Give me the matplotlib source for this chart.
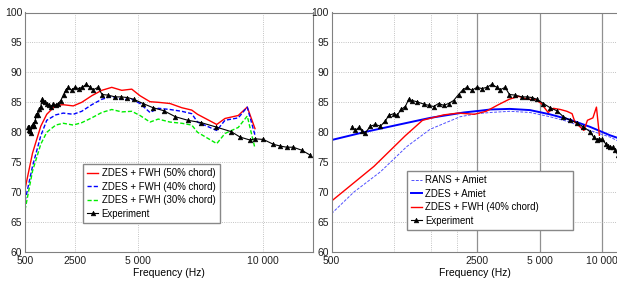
import matplotlib
matplotlib.use('Agg')
import matplotlib.pyplot as plt
from matplotlib.ticker import FixedLocator, NullFormatter

plt.rcParams['font.family'] = ['Liberation Sans', 'DejaVu Sans']
plt.rcParams['font.size'] = 7.5

# ZDES + FWH results (three surface positions), same frequency samples
zdes_freq = [500, 800, 1130, 1370, 1730, 2030, 2430, 2770, 3170, 3570, 3970, 4370,
             4770, 5100, 5500, 5830, 6300, 6770, 7170, 7400, 8170, 8500, 9030, 9390, 9700]
zdes_50 = [70.5, 76.5, 81.0, 83.0, 84.5, 84.6, 84.4, 85.0, 86.1, 87.0, 87.5, 87.0,
           87.2, 86.1, 85.1, 85.0, 84.8, 84.1, 83.7, 83.0, 81.3, 82.3, 82.8, 84.2, 80.6]
zdes_40 = [68.5, 74.3, 79.4, 82.0, 82.9, 83.2, 83.0, 83.5, 84.6, 85.5, 86.0, 85.5,
           85.5, 84.8, 83.3, 84.0, 83.8, 83.5, 83.1, 81.7, 80.3, 82.0, 82.4, 84.2, 79.5]
zdes_30 = [67.0, 73.5, 78.0, 80.0, 81.2, 81.5, 81.2, 81.6, 82.4, 83.3, 83.8, 83.4,
           83.5, 82.8, 81.7, 82.2, 81.7, 81.5, 81.2, 80.0, 78.1, 79.8, 80.8, 82.7, 77.3]

# Amiet models
rans_freq = [500, 640, 860, 1150, 1490, 2080, 2500, 2900, 3600, 4500, 5600, 7000, 8750, 10900, 12000]
rans_amiet = [66.4, 70.0, 73.4, 77.6, 80.5, 82.6, 83.1, 83.3, 83.5, 83.3, 82.6, 81.7, 80.3, 79.2, 78.5]
amiet_freq = [500, 714, 1030, 1490, 2160, 2600, 2900, 3600, 4500, 5600, 7000, 8750, 10900, 12000]
zdes_amiet = [78.7, 80.0, 81.2, 82.4, 83.3, 83.6, 83.8, 83.9, 83.7, 83.0, 82.1, 80.9, 79.5, 79.0]

# Experiment
exp_freq = [628, 651, 676, 701, 727, 769, 813, 859, 908, 941, 995, 1032, 1079, 1132, 1175,
            1219, 1288, 1387, 1465, 1549, 1636, 1730, 1828, 1932, 2040, 2141, 2238, 2365,
            2500, 2642, 2793, 2950, 3118, 3236, 3419, 3585, 3819, 4111, 4345, 4592, 4853,
            5220, 5620, 6052, 6510, 7012, 7550, 8125, 8750, 9100, 9500, 9700, 10030, 10430,
            10700, 10970, 11230, 11570, 11900]
exp_spl = [80.9, 80.3, 80.8, 80.2, 79.9, 81.0, 81.3, 81.0, 81.9, 82.8, 83.1, 82.8, 83.8, 84.3,
           85.5, 85.3, 85.1, 84.7, 84.5, 84.3, 84.8, 84.5, 84.8, 85.3, 86.3, 87.1, 87.5, 87.0,
           87.5, 87.3, 87.5, 88.0, 87.5, 87.1, 87.5, 86.3, 86.2, 85.9, 85.9, 85.8, 85.5,
           84.8, 84.1, 83.6, 82.6, 82.0, 81.6, 80.9, 80.1, 79.2, 78.7, 78.9, 78.8, 78.0,
           77.7, 77.5, 77.5, 77.0, 76.2]

xticks = [500, 2500, 5000, 10000]
xlabels = ['500', '2500', '5 000', '10 000']
yticks = list(range(60, 101, 5))

fig = plt.figure(figsize=(6.17, 2.82), dpi=100)
ax1 = fig.add_axes([25/617, 1-252/282, 287.5/617, 239.5/282])
ax2 = fig.add_axes([331.5/617, 1-252/282, 287.1/617, 239.5/282])

for ax in (ax1, ax2):
    for s in ax.spines.values():
        s.set_color('#808080')
        s.set_linewidth(0.8)
    ax.set_ylim(60, 100)
    ax.set_yticks(yticks)
    ax.set_axisbelow(True)
    ax.yaxis.grid(True, ls=':', color='#b0b0b0', lw=0.6)
    ax.tick_params(which='both', length=0, pad=2, colors='#202020')
    ax.tick_params(axis='x', pad=3)
    ax.set_xlabel('Frequency (Hz)', labelpad=1)

dash = (3, 1.5)
exp_style = dict(color='k', marker='^', ms=3.4, lw=0.8, mew=0.4)
leg_style = dict(loc='lower left', borderaxespad=0, mode='expand', fancybox=False,
                 edgecolor='#888888', framealpha=1, handlelength=1.1, fontsize=6.9,
                 borderpad=0.45, labelspacing=0.36, handletextpad=0.4)

# left panel: linear frequency axis
ax1.set_xlim(500, 12000)
ax1.set_xticks(xticks)
ax1.set_xticklabels(xlabels)
ax1.xaxis.grid(True, ls=':', color='#b0b0b0', lw=0.6)
ax1.plot(zdes_freq, zdes_50, color='#ff0000', lw=1.0, label='ZDES + FWH (50% chord)')
ax1.plot(zdes_freq, zdes_40, color='#0000ff', lw=1.0, dashes=dash, label='ZDES + FWH (40% chord)')
ax1.plot(zdes_freq, zdes_30, color='#00ee00', lw=1.0, dashes=dash, label='ZDES + FWH (30% chord)')
ax1.plot(exp_freq, exp_spl, label='Experiment', **exp_style)
ax1.legend(bbox_to_anchor=(0.2017, 0.121, 0.4765, 0.1), **leg_style)

# right panel: log frequency axis
ax2.set_xscale('log')
ax2.set_xlim(500, 12000)
ax2.xaxis.set_major_locator(FixedLocator(xticks))
ax2.set_xticklabels(xlabels)
ax2.xaxis.set_minor_locator(FixedLocator([1000, 1500, 2000]))
ax2.xaxis.set_minor_formatter(NullFormatter())
ax2.grid(which='minor', axis='x', ls=':', color='#b0b0b0', lw=0.6)
for f in xticks[1:]:
    ax2.axvline(f, color='#909090', lw=0.9, zorder=0.5)
ax2.plot(rans_freq, rans_amiet, color='#5050ff', lw=0.7, dashes=dash, label='RANS + Amiet')
ax2.plot(amiet_freq, zdes_amiet, color='#0000ff', lw=1.4, label='ZDES + Amiet')
ax2.plot(zdes_freq, zdes_40, color='#ff0000', lw=1.0, label='ZDES + FWH (40% chord)')
ax2.plot(exp_freq, exp_spl, label='Experiment', **exp_style)
ax2.legend(bbox_to_anchor=(0.262, 0.092, 0.580, 0.1), **leg_style)

fig.savefig('out.png', dpi=100)
